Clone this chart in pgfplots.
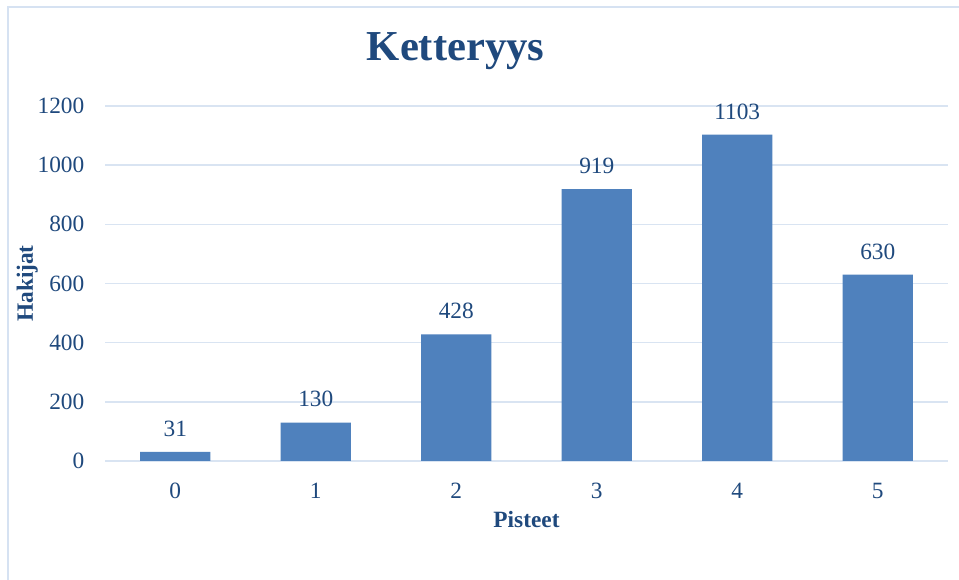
\documentclass[border=0pt]{standalone}
\usepackage{pgfplots}
\pgfplotsset{compat=1.18}
\usepackage{fontspec}
\setmainfont{Liberation Serif}
\definecolor{txt}{RGB}{31,73,125}
\definecolor{barc}{RGB}{79,129,189}
\definecolor{gridc}{RGB}{217,228,242}
\definecolor{framec}{RGB}{214,226,242}
\begin{document}
\begin{tikzpicture}
\useasboundingbox (0,0) rectangle (719.25pt,435pt);
\fill[white] (0,0) rectangle (719.25pt,435pt);
\draw[framec,line width=1.2pt] (6pt,0pt) -- (6pt,429.75pt) -- (719.25pt,429.75pt);
\begin{axis}[
  at={(78.75pt,89.25pt)}, anchor=south west,
  scale only axis,
  width=632.25pt, height=266.25pt,
  xmin=-0.5, xmax=5.5, ymin=0, ymax=1200,
  xtick=data,
  ytick={0,200,...,1200},
  ymajorgrids=true, xmajorgrids=false,
  major grid style={draw=gridc,line width=1.2pt},
  axis line style={draw=none},
  tick style={draw=none},
  ybar, bar width=52.7pt,
  font=\fontsize{17.5}{20}\selectfont,
  tick label style={text=txt},
  /pgf/number format/assume math mode=true,
  /pgf/number format/1000 sep={},
  xticklabel style={yshift=-9pt},
  yticklabel style={xshift=-12pt},
  nodes near coords,
  nodes near coords style={text=txt, font=\fontsize{17.5}{20}\selectfont, yshift=8pt},
  xlabel={\textbf{Pisteet}}, ylabel={\textbf{Hakijat}},
  xlabel style={text=txt, yshift=-2pt},
  ylabel style={text=txt, yshift=-7pt},
  title={\textbf{Ketteryys}},
  title style={text=txt, font=\fontsize{32}{36}\selectfont, at={(0.416,1)}, yshift=17.5pt},
  clip=false,
]
\addplot[fill=barc, draw=none] coordinates {(0,31) (1,130) (2,428) (3,919) (4,1103) (5,630)};
\end{axis}
\end{tikzpicture}
\end{document}
